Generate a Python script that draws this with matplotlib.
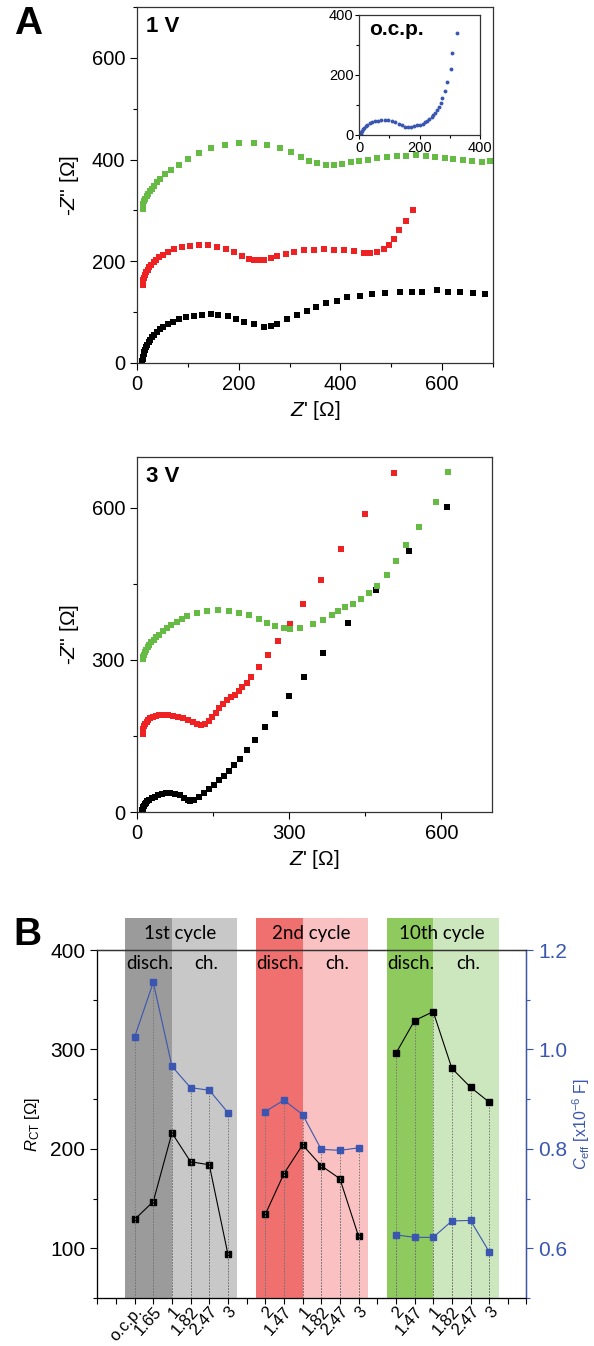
import matplotlib.pyplot as plt
import numpy as np
from matplotlib.ticker import MultipleLocator

plt.rcParams['font.family'] = ['Liberation Sans', 'DejaVu Sans']
plt.rcParams['mathtext.fontset'] = 'custom'
plt.rcParams['mathtext.rm'] = 'Liberation Sans'
plt.rcParams['mathtext.it'] = 'Liberation Sans:italic'

# ---- panel A, 1 V ----
blk1_x = [10, 10.5, 11, 12, 13, 14, 16, 18, 20, 23, 26, 30, 34, 39, 45, 52, 60, 70, 82, 96, 112, 128, 145, 160,
          178, 194, 210, 230, 250, 263, 276, 295, 315, 335, 351, 371, 394, 413, 439, 462, 488, 518, 541, 560,
          590, 612, 635, 661, 684]
blk1_y = [0, 4, 8, 12, 17, 21, 26, 31, 36, 41, 46, 51, 56, 61, 66, 71, 76, 81, 86, 90, 93, 95, 96, 95,
          93, 87, 81, 76, 71, 72, 76, 86, 95, 103, 110, 117, 122, 129, 132, 135, 137, 139, 140, 140,
          143, 140, 140, 137, 135]
red1_x = [11, 11.5, 12.5, 14, 16, 18, 21, 24, 28, 33, 38, 44, 51, 60, 73, 88, 105, 122, 140, 158, 175, 191,
          207, 220, 230, 240, 250, 263, 276, 292, 309, 328, 348, 367, 387, 407, 426, 446, 459, 472, 485, 495,
          505, 516, 529, 542]
red1_y = [153, 158, 163, 168, 173, 178, 183, 188, 193, 198, 203, 208, 212, 218, 224, 228, 231, 233, 233, 229,
          225, 218, 210, 205, 202, 202, 203, 207, 211, 215, 218, 222, 223, 224, 223, 222, 220, 217, 216, 218,
          225, 233, 243, 261, 279, 301]
grn1_x = [11, 11.5, 12.5, 14, 16, 19, 22, 25, 29, 34, 40, 46, 55, 67, 83, 101, 122, 146, 173, 201, 230, 256,
          281, 302, 322, 338, 354, 371, 387, 403, 420, 436, 454, 472, 492, 511, 529, 549, 569, 586, 606, 622,
          641, 658, 678, 694]
grn1_y = [303, 308, 313, 318, 323, 328, 333, 338, 343, 348, 355, 362, 371, 380, 390, 401, 412, 423, 429, 432,
          432, 429, 422, 414, 405, 398, 394, 390, 390, 392, 395, 398, 400, 403, 406, 407, 408, 409, 407, 405,
          403, 401, 399, 398, 396, 397]

# inset, o.c.p.
ocp_x = [5, 6, 8, 10, 13, 17, 22, 28, 35, 43, 52, 62, 73, 85, 97, 109, 120, 131, 142, 152, 162, 172, 182, 192,
         201, 210, 218, 226, 233, 240, 246, 252, 258, 264, 270, 276, 283, 290, 303, 308, 324]
ocp_y = [0, 5, 10, 15, 20, 25, 30, 35, 39, 43, 46, 48, 50, 50, 49, 46, 42, 37, 32, 28, 27, 28, 30, 32,
         35, 38, 42, 47, 53, 59, 66, 74, 84, 95, 108, 122, 148, 178, 219, 272, 341]

# ---- panel A, 3 V ----
blk3_x = [10, 10.5, 11, 12, 13, 15, 17, 20, 24, 29, 35, 42, 50, 58, 66, 75, 84, 93, 100, 105, 112, 122, 132,
          142, 152, 161, 171, 181, 191, 204, 216, 232, 252, 273, 299, 329, 367, 416, 472, 536, 611]
blk3_y = [0, 3, 6, 9, 12, 15, 18, 21, 24, 27, 30, 33, 35, 37, 37, 36, 33, 28, 24, 21, 24, 30, 38,
          46, 54, 63, 71, 81, 92, 105, 122, 141, 167, 194, 228, 267, 313, 372, 437, 514, 601]
red3_x = [11, 11.5, 12.5, 14, 16, 19, 22, 26, 31, 37, 44, 52, 61, 70, 80, 90, 100, 110, 118, 126, 134, 141,
          148, 155, 162, 170, 178, 186, 193, 201, 208, 216, 225, 240, 258, 278, 301, 328, 362, 403, 449, 507]
red3_y = [154, 159, 164, 169, 174, 178, 182, 185, 188, 190, 191, 191, 191, 190, 188, 185, 181, 177, 174, 172,
          174, 180, 188, 196, 206, 213, 220, 226, 231, 239, 246, 254, 266, 285, 310, 337, 370, 411, 458, 519,
          588, 669]
grn3_x = [11, 12, 13.5, 15.5, 18, 21, 24.5, 28.5, 33, 38, 44, 51, 59, 68, 78, 89, 99, 119, 139, 160, 181, 201,
          220, 240, 256, 272, 289, 302, 322, 348, 367, 384, 397, 411, 425, 441, 457, 474, 492, 510, 531, 557,
          589, 613]
grn3_y = [301, 305, 310, 315, 320, 325, 330, 335, 340, 345, 350, 356, 362, 368, 374, 380, 386, 392, 396, 398,
          396, 393, 388, 380, 373, 367, 362, 360, 363, 371, 379, 388, 397, 404, 411, 420, 431, 446, 467, 495,
          526, 561, 612, 671]

# ---- panel B ----
pos1 = [2, 3, 4, 5, 6, 7]
pos2 = [9, 10, 11, 12, 13, 14]
pos10 = [16, 17, 18, 19, 20, 21]
lab1 = ['o.c.p.', '1.65', '1', '1.82', '2.47', '3']
lab2 = ['2', '1.47', '1', '1.82', '2.47', '3']
lab10 = ['2', '1.47', '1', '1.82', '2.47', '3']
rct1 = [129, 147, 216, 187, 184, 94]
rct2 = [134, 175, 204, 183, 170, 112]
rct10 = [296, 329, 338, 281, 262, 247]
ceff1 = [1.025, 1.135, 0.966, 0.923, 0.918, 0.873]
ceff2 = [0.875, 0.898, 0.869, 0.799, 0.797, 0.802]
ceff10 = [0.627, 0.622, 0.622, 0.655, 0.656, 0.593]

W, H = 594.0, 1346.0


def box(l, t, r, b):
    return [l / W, 1 - b / H, (r - l) / W, (b - t) / H]


def style_a(ax, lim, major, minor, size=14.5):
    ax.set_xlim(0, lim)
    ax.set_ylim(0, lim)
    ax.xaxis.set_major_locator(MultipleLocator(major))
    ax.yaxis.set_major_locator(MultipleLocator(major))
    ax.xaxis.set_minor_locator(MultipleLocator(minor))
    ax.yaxis.set_minor_locator(MultipleLocator(minor))
    ax.tick_params(which='both', direction='out', top=False, right=False, labelsize=size, width=0.8)
    ax.tick_params(which='major', length=5)
    ax.tick_params(which='minor', length=3)
    for s in ax.spines.values():
        s.set_linewidth(0.9)
        s.set_color('#333333')


fig = plt.figure(figsize=(W / 100, H / 100), dpi=100)

green = '#66bb44'
red = '#ee2222'
blue = '#3a56b0'
ms = 5

# A, 1 V
ax1 = fig.add_axes(box(137, 7, 493, 363))
ax1.plot(blk1_x, blk1_y, 's', color='black', ms=ms, mew=0)
ax1.plot(red1_x, red1_y, 's', color=red, ms=ms, mew=0)
ax1.plot(grn1_x, grn1_y, 's', color=green, ms=ms, mew=0)
style_a(ax1, 700, 200, 100)
ax1.set_xlabel("$Z$' [Ω]", fontsize=15, labelpad=4)
ax1.set_ylabel("-$Z$'' [Ω]", fontsize=15, labelpad=8)
ax1.text(0.025, 0.975, '1 V', transform=ax1.transAxes, fontsize=16, fontweight='bold', va='top')

# inset
axi = fig.add_axes(box(359, 15, 480, 135))
axi.plot(ocp_x, ocp_y, 'o', color=blue, ms=2.8, mew=0)
style_a(axi, 400, 200, 100, size=10.5)
axi.tick_params(which='major', length=3, pad=1)
axi.tick_params(which='minor', length=2)
axi.text(0.08, 0.96, 'o.c.p.', transform=axi.transAxes, fontsize=15, fontweight='bold', va='top')

# A, 3 V
ax3 = fig.add_axes(box(137, 457, 492, 812))
ax3.plot(blk3_x, blk3_y, 's', color='black', ms=ms, mew=0)
ax3.plot(red3_x, red3_y, 's', color=red, ms=ms, mew=0)
ax3.plot(grn3_x, grn3_y, 's', color=green, ms=ms, mew=0)
style_a(ax3, 700, 300, 150)
ax3.set_xlabel("$Z$' [Ω]", fontsize=15, labelpad=4)
ax3.set_ylabel("-$Z$'' [Ω]", fontsize=15, labelpad=8)
ax3.text(0.025, 0.975, '3 V', transform=ax3.transAxes, fontsize=16, fontweight='bold', va='top')

fig.text(28 / W, 1 - 24 / H, 'A', fontsize=28, fontweight='bold', ha='center', va='center')
fig.text(27 / W, 1 - 935 / H, 'B', fontsize=28, fontweight='bold', ha='center', va='center')

# B
axb = fig.add_axes(box(97.3, 950, 526.5, 1298))
axr = axb.twinx()
bands = [(1.5, 4, '#9b9b9b'), (4, 7.5, '#c8c8c8'),
         (8.5, 11, '#f07070'), (11, 14.5, '#f9c1c1'),
         (15.5, 18, '#8fca5e'), (18, 21.5, '#cce6bd')]
for x0, x1, c in bands:
    axb.axvspan(x0, x1, ymin=0, ymax=1.092, color=c, lw=0, zorder=0, clip_on=False)

lato = ['Lato', 'DejaVu Sans']
for start, name in [(1.5, '1st cycle'), (8.5, '2nd cycle'), (15.5, '10th cycle')]:
    axb.text(start + 2.95, 417, name, ha='center', va='center', fontsize=13.5, family=lato)
    axb.text(start + 1.3, 386, 'disch.', ha='center', va='center', fontsize=13.5, family=lato)
    axb.text(start + 4.35, 386, 'ch.', ha='center', va='center', fontsize=13.5, family=lato)

for p, r, c in [(pos1, rct1, ceff1), (pos2, rct2, ceff2), (pos10, rct10, ceff10)]:
    axb.vlines(p, 50, r, colors='#777777', linestyles=(0, (1.5, 1.5)), lw=0.7, zorder=1)
    axr.vlines(p, 0.5, c, colors='#777777', linestyles=(0, (1.5, 1.5)), lw=0.7, zorder=1)
    axb.plot(p, r, 's-', color='black', ms=4.5, lw=0.8, zorder=3)
    axr.plot(p, c, 's-', color=blue, ms=4.5, lw=0.8, zorder=3)

axb.set_xlim(0, 23)
axb.set_ylim(50, 400)
axr.set_ylim(0.5, 1.2)
ticks = list(range(0, 24))
labels = [''] * 24
for p, l in zip(pos1 + pos2 + pos10, lab1 + lab2 + lab10):
    labels[p] = l
axb.set_xticks(ticks)
axb.set_xticklabels(labels, rotation=48, ha='right', rotation_mode='anchor', fontsize=12)
axb.yaxis.set_major_locator(MultipleLocator(100))
axb.yaxis.set_minor_locator(MultipleLocator(50))
axr.yaxis.set_major_locator(MultipleLocator(0.2))
axr.yaxis.set_minor_locator(MultipleLocator(0.1))
axr.set_yticks([0.6, 0.8, 1.0, 1.2])
axr.set_yticklabels(['0.6', '0.8', '1.0', '1.2'])
axb.tick_params(axis='both', which='both', direction='out', labelsize=15, width=0.8)
axb.tick_params(axis='x', which='major', length=4, labelsize=12, pad=0.5)
axb.tick_params(axis='y', which='major', length=5)
axb.tick_params(axis='y', which='minor', length=3)
axr.tick_params(axis='y', which='both', direction='out', colors=blue, labelsize=15, width=0.8)
axr.tick_params(axis='y', which='major', length=5)
axr.tick_params(axis='y', which='minor', length=3)
for s in axb.spines.values():
    s.set_linewidth(0.9)
    s.set_color('#333333')
axr.spines['right'].set_color(blue)
axr.spines['right'].set_linewidth(0.9)
axr.spines['top'].set_linewidth(0.9)
axr.spines['top'].set_color('#333333')
axb.set_ylabel('$R_{\\mathrm{CT}}$ [Ω]', fontsize=12, labelpad=6)
axr.set_ylabel('$C_{\\mathrm{eff}}$ [x10$^{-6}$ F]', fontsize=11.5, color=blue, labelpad=2)

fig.savefig('out.png', dpi=100)
